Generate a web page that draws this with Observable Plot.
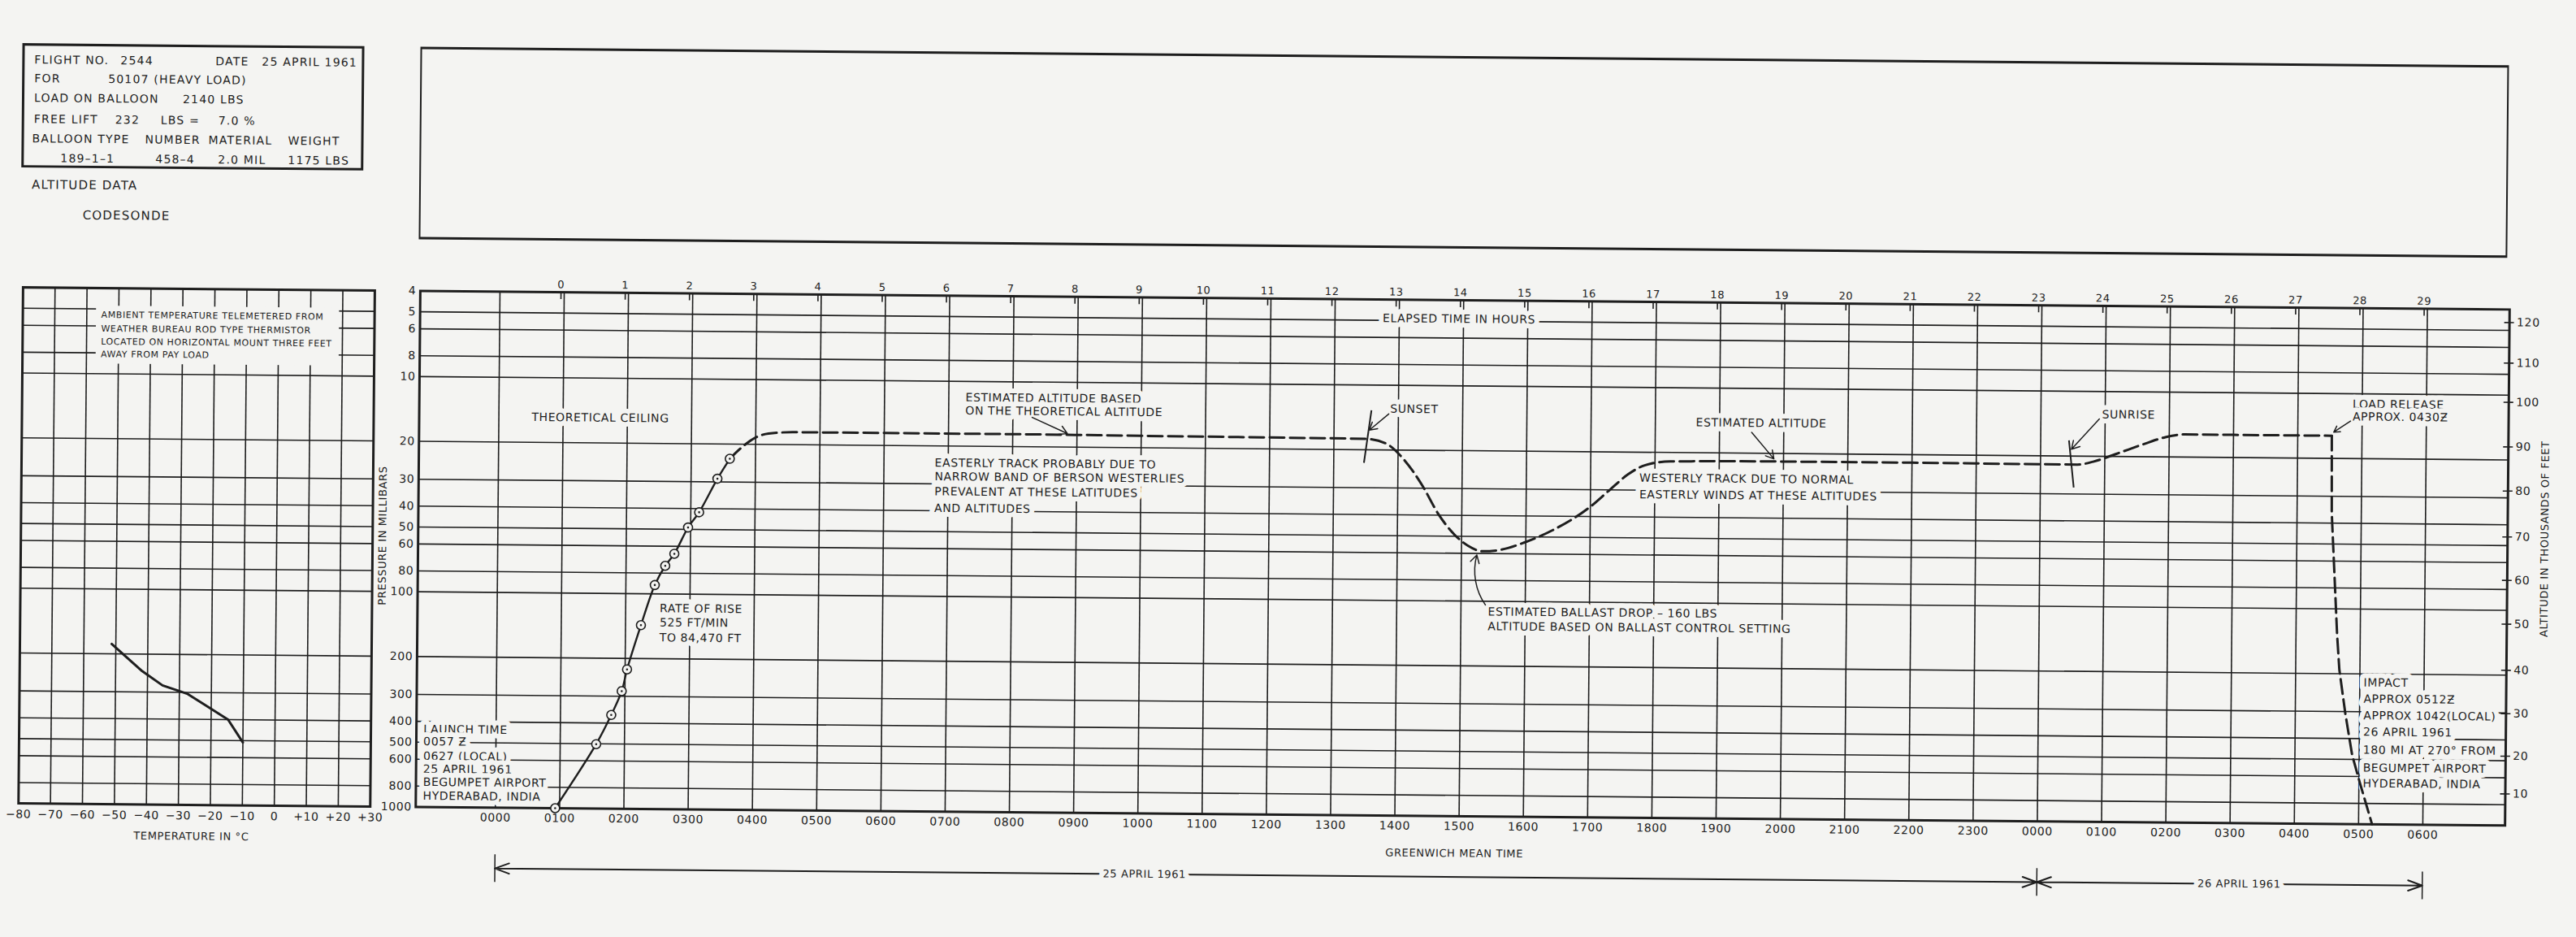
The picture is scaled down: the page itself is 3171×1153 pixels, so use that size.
<!DOCTYPE html>
<html><head><meta charset="utf-8">
<script src="https://cdn.jsdelivr.net/npm/d3@7"></script>
<script src="https://cdn.jsdelivr.net/npm/@observablehq/plot@0.6"></script>
<style>
html,body{margin:0;padding:0;background:#f4f4f2;overflow:hidden;width:3171px;height:1153px;}
#page{position:absolute;left:0;top:0;width:3171px;height:1153px;transform:rotate(0.51deg);transform-origin:1585px 576px;font-family:"DejaVu Sans",sans-serif;color:#1e1e1e;}
#page svg{position:absolute;top:0;overflow:visible;}
#page svg text{letter-spacing:0.6px;}
.t{position:absolute;white-space:nowrap;font-size:14px;line-height:16px;letter-spacing:1.2px;transform:translateY(-50%);}
.box{position:absolute;border:3px solid #1e1e1e;box-sizing:border-box;}
</style></head>
<body><div id="page"></div>
<script>
// ---------------- DATA ----------------
const gridPressures = [5, 6, 8, 10, 20, 30, 40, 50, 60, 80, 100, 200, 300, 400, 500, 600, 800];
const pressureTicks = [4, 5, 6, 8, 10, 20, 30, 40, 50, 60, 80, 100, 200, 300, 400, 500, 600, 800, 1000];
const gmtHours = [0,1,2,3,4,5,6,7,8,9,10,11,12,13,14,15,16,17,18,19,20,21,22,23,24,25,26,27,28,29,30];
const gmtLabels = ["0000","0100","0200","0300","0400","0500","0600","0700","0800","0900","1000","1100","1200","1300","1400","1500","1600","1700","1800","1900","2000","2100","2200","2300","0000","0100","0200","0300","0400","0500","0600"];
const elapsedHours = [0,1,2,3,4,5,6,7,8,9,10,11,12,13,14,15,16,17,18,19,20,21,22,23,24,25,26,27,28,29];
const launchGMT = 0.95; // 0057 Z
const altLabels = ["10","20","30","40","50","60","70","80","90","100","110","120"];
const altPressure = [713, 476, 302, 190, 116, 72.6, 45.6, 27.9, 17.4, 10.8, 7.1, 4.6];

// ascent (solid, circled observations)
const ascentGMT = [0.93, 1.56, 1.79, 1.95, 2.03, 2.24, 2.45, 2.61, 2.75, 2.96, 3.13, 3.41, 3.60];
const ascentMb  = [1000, 502, 367, 284, 225, 140, 91, 74, 65, 49, 41.6, 29, 23.4];
// estimated float (dashed)
const flightGMT = [3.60, 3.80, 4.00, 4.20, 4.60, 6.00, 8.00, 10.00, 12.00, 13.50, 13.80, 14.09, 14.38, 14.64, 14.89, 15.10, 15.33, 15.62, 15.98, 16.42, 17.00, 17.29, 17.58, 17.84, 18.24, 20.00, 22.00, 24.00, 24.57, 24.82, 25.17, 25.60, 25.94, 26.24, 27.00, 28.53];
const flightMb  = [23.4, 20.5, 18.6, 17.8, 17.5, 17.5, 17.5, 17.6, 17.7, 17.8, 18.6, 22.1, 29.1, 39.7, 49.2, 55.3, 58.6, 57.5, 53.1, 46.4, 36.0, 30.2, 25.4, 23.0, 22.0, 21.8, 21.8, 21.9, 21.9, 21.2, 19.5, 17.5, 16.2, 15.7, 15.7, 15.7];
// fall after load release (dashed)
const fallGMT = [28.53, 28.54, 28.64, 28.68, 28.78, 28.89, 29.01, 29.21];
const fallMb  = [15.7, 36, 132, 192, 308, 476, 635, 1000];

// temperature panel
const tempTicks  = [-80, -70, -60, -50, -40, -30, -20, -10, 0, 10, 20, 30];
const tempLabels = ["\u221280","\u221270","\u221260","\u221250","\u221240","\u221230","\u221220","\u221210","0","+10","+20","+30"];
const tempGrid = [-70, -60, -50, -40, -30, -20, -10, 0, 10, 20];
const tempC  = [-51.3, -41.7, -35.3, -27.4, -14.7, -10.0];
const tempMb = [180, 240, 279, 305, 400, 510];
const tempNote = [
  {t: "AMBIENT TEMPERATURE TELEMETERED FROM", p: 5.33},
  {t: "WEATHER BUREAU ROD TYPE THERMISTOR", p: 6.18},
  {t: "LOCATED ON HORIZONTAL MOUNT THREE FEET", p: 7.10},
  {t: "AWAY FROM PAY LOAD", p: 8.12}
];

// annotations on the main chart (GMT hour, millibars)
const notes = [
  {t: "THEORETICAL CEILING", h: 0.51, p: 15.3},
  {t: "ESTIMATED ALTITUDE BASED", h: 7.26, p: 11.9},
  {t: "ON THE THEORETICAL ALTITUDE", h: 7.26, p: 13.7},
  {t: "EASTERLY TRACK PROBABLY DUE TO", h: 6.79, p: 24.0},
  {t: "NARROW BAND OF BERSON WESTERLIES", h: 6.79, p: 27.8},
  {t: "PREVALENT AT THESE LATITUDES", h: 6.79, p: 32.6},
  {t: "AND ALTITUDES", h: 6.79, p: 39.0},
  {t: "RATE OF RISE", h: 2.53, p: 117},
  {t: "525 FT/MIN", h: 2.53, p: 136},
  {t: "TO 84,470 FT", h: 2.53, p: 160},
  {t: "LAUNCH TIME", h: -1.13, p: 436},
  {t: "0057 \u01B5", h: -1.13, p: 497},
  {t: "0627 (LOCAL)", h: -1.13, p: 581},
  {t: "25 APRIL 1961", h: -1.13, p: 667},
  {t: "BEGUMPET AIRPORT", h: -1.13, p: 767},
  {t: "HYDERABAD, INDIA", h: -1.13, p: 889},
  {t: "SUNSET", h: 13.87, p: 12.9},
  {t: "ESTIMATED BALLAST DROP \u2013 160 LBS", h: 15.42, p: 112},
  {t: "ALTITUDE BASED ON BALLAST CONTROL SETTING", h: 15.42, p: 131},
  {t: "ESTIMATED ALTITUDE", h: 18.63, p: 14.5},
  {t: "WESTERLY TRACK DUE TO NORMAL", h: 17.76, p: 26.4},
  {t: "EASTERLY WINDS AT THESE ALTITUDES", h: 17.76, p: 31.5},
  {t: "SUNRISE", h: 24.95, p: 12.8},
  {t: "LOAD RELEASE", h: 28.85, p: 11.2},
  {t: "APPROX. 0430\u01B5", h: 28.85, p: 12.8},
  {t: "IMPACT", h: 29.06, p: 220},
  {t: "APPROX 0512\u01B5", h: 29.06, p: 262},
  {t: "APPROX 1042(LOCAL)", h: 29.06, p: 313},
  {t: "26 APRIL 1961", h: 29.06, p: 373},
  {t: "180 MI AT 270\u00B0 FROM", h: 29.06, p: 452},
  {t: "BEGUMPET AIRPORT", h: 29.06, p: 548},
  {t: "HYDERABAD, INDIA", h: 29.06, p: 647}
];
const elapsedTitle = [{t: "ELAPSED TIME IN HOURS", h: 14.93, p: 4.9}];
const pointers = [
  {x1: 8.30, y1: 14.6, x2: 8.85, y2: 17.3},
  {x1: 13.85, y1: 13.6, x2: 13.55, y2: 16.2},
  {x1: 19.50, y1: 16.0, x2: 19.85, y2: 21.2},
  {x1: 24.91, y1: 13.4, x2: 24.48, y2: 18.6},
  {x1: 28.82, y1: 13.4, x2: 28.56, y2: 15.1}
];
const ballastPointer = [{x1: 15.38, y1: 104, x2: 15.24, y2: 61}];
const dayMarks = [
  {name: "sunset", x1: 13.58, y1: 13.1, x2: 13.47, y2: 23.0},
  {name: "sunrise", x1: 24.44, y1: 16.9, x2: 24.52, y2: 28.0}
];
const dateSpans = [
  {label: "25 APRIL 1961", from: 0, to: 24, mid: 10.11},
  {label: "26 APRIL 1961", from: 24, to: 30, mid: 27.15}
];
const dateBounds = [0, 24, 30];

// ---------------- RENDER ----------------
const ink = "#1e1e1e", paper = "#f4f4f2", FONT = "DejaVu Sans";
const page = document.getElementById("page");
const W = 3171, H = 1153, TOP = 367, BOTTOM = 151;
const MW = W - 460, ML = 55, MR = 84;
const frameH = H - TOP - BOTTOM;
const frameW = MW - ML - MR;

function put(text, x, y, size) {
  const d = document.createElement("div");
  d.className = "t";
  d.textContent = text;
  d.style.left = x + "px";
  d.style.top = y + "px";
  if (size) d.style.fontSize = size + "px";
  page.appendChild(d);
}
function box(x, y, w, h, bw) {
  const d = document.createElement("div");
  d.className = "box";
  Object.assign(d.style, {left: x + "px", top: y + "px", width: w + "px", height: h + "px"});
  if (bw) d.style.borderWidth = bw;
  page.appendChild(d);
}

// header info box
box(23, 67, 421, 153);
const rows = [87, 110, 134, 160, 184, 208];
[["FLIGHT NO.", 38, 0], ["2544", 144, 0], ["DATE", 261, 0], ["25 APRIL 1961", 318, 0],
 ["FOR", 38, 1], ["50107  (HEAVY LOAD)", 129, 1],
 ["LOAD ON BALLOON", 38, 2], ["2140 LBS", 221, 2],
 ["FREE LIFT", 38, 3], ["232", 138, 3], ["LBS =", 194, 3], ["7.0 %", 265, 3],
 ["BALLOON TYPE", 36, 4], ["NUMBER", 175, 4], ["MATERIAL", 253, 4], ["WEIGHT", 351, 4],
 ["189\u20131\u20131", 71, 5], ["458\u20134", 188, 5], ["2.0 MIL", 265, 5], ["1175 LBS", 351, 5]
].forEach(([s, x, r]) => put(s, x, rows[r]));
put("ALTITUDE DATA", 36, 241, 15);
put("CODESONDE", 99, 278, 15);
// empty title box
box(513, 67, 2571, 237, "3px 2px");

const baseStyle = {background: "transparent", fontFamily: FONT, color: ink, overflow: "visible"};
const halo = {fill: ink, stroke: paper, strokeWidth: 12, paintOrder: "stroke"};

// ---- temperature panel ----
const tempData = tempC.map((t, i) => ({t, p: tempMb[i]}));
const tempSvg = Plot.plot({
  width: 475, height: H,
  marginLeft: 26, marginRight: 16, marginTop: TOP, marginBottom: BOTTOM,
  style: baseStyle,
  x: {domain: [-80, 30], label: null},
  y: {type: "log", domain: [4, 1000], reverse: true, axis: null},
  marks: [
    Plot.ruleX(tempGrid, {stroke: ink, strokeWidth: 1.6}),
    Plot.ruleY(gridPressures, {stroke: ink, strokeWidth: 1.6}),
    Plot.rect([0], {x1: () => -57, x2: () => 19, y1: () => 4.85, y2: () => 9.0, fill: paper}),
    Plot.frame({stroke: ink, strokeWidth: 3}),
    Plot.text(tempNote, {x: () => -55.5, y: "p", text: "t", textAnchor: "start", fontSize: 11, fill: ink}),
    Plot.line(tempData, {x: "t", y: "p", stroke: ink, strokeWidth: 3}),
    Plot.axisX({anchor: "bottom", ticks: tempTicks, tickFormat: d => tempLabels[tempTicks.indexOf(d)], tickSize: 0, tickPadding: 8, fontSize: 14, label: null}),
    Plot.text(["TEMPERATURE IN \u00B0C"], {x: () => -25.9, frameAnchor: "bottom", dy: 43, text: d => d, fontSize: 13, fill: ink})
  ]
});
tempSvg.style.left = "0px";
page.appendChild(tempSvg);

// ---- main altitude chart ----
const ascent = ascentGMT.map((h, i) => ({h, p: ascentMb[i]}));
const flight = flightGMT.map((h, i) => ({h, p: flightMb[i]}));
const fall = fallGMT.map((h, i) => ({h, p: fallMb[i]}));
const altTicks = altPressure.map((p, i) => ({p, label: altLabels[i]}));
const elapsedGMT = elapsedHours.map(e => launchGMT + e);

const mainSvg = Plot.plot({
  width: MW, height: H,
  marginLeft: ML, marginRight: MR, marginTop: TOP, marginBottom: BOTTOM,
  style: baseStyle,
  x: {domain: [-1.24, 31.28], label: null},
  y: {type: "log", domain: [4, 1000], reverse: true, axis: null},
  marks: [
    Plot.ruleX(gmtHours, {stroke: ink, strokeWidth: 1.6}),
    Plot.ruleY(gridPressures, {stroke: ink, strokeWidth: 1.6}),
    Plot.ruleX(elapsedGMT, {stroke: ink, strokeWidth: 1.6, insetBottom: frameH - 9}),
    Plot.axisX({anchor: "top", ticks: elapsedGMT, tickFormat: d => String(elapsedHours[elapsedGMT.indexOf(d)]), tickSize: 0, tickPadding: 5, fontSize: 13, label: null}),
    Plot.axisX({anchor: "bottom", ticks: gmtHours, tickFormat: d => gmtLabels[d], tickSize: 0, tickPadding: 7, fontSize: 14, label: null}),
    // left pressure labels
    Plot.text(pressureTicks, {y: d => d, frameAnchor: "left", textAnchor: "end", dx: -5, text: d => `${d}`, fontSize: 14, fill: ink}),
    // right altitude ticks and labels
    Plot.ruleY(altTicks, {y: "p", stroke: ink, strokeWidth: 1.6, insetLeft: frameW - 6, insetRight: -6}),
    Plot.text(altTicks, {y: "p", frameAnchor: "right", textAnchor: "start", dx: 9, text: "label", fontSize: 14, fill: ink}),
    Plot.text(notes, {x: "h", y: "p", text: "t", textAnchor: "start", fontSize: 14, ...halo}),
    Plot.text(elapsedTitle, {x: "h", y: "p", text: "t", textAnchor: "middle", fontSize: 14, ...halo}),
    Plot.frame({stroke: ink, strokeWidth: 3}),
    Plot.line(ascent, {x: "h", y: "p", curve: "catmull-rom", stroke: ink, strokeWidth: 2.4}),
    Plot.line(flight, {x: "h", y: "p", curve: "monotone-x", stroke: ink, strokeWidth: 3, strokeDasharray: "18,7"}),
    Plot.line(fall, {x: "h", y: "p", stroke: ink, strokeWidth: 3, strokeDasharray: "18,7"}),
    Plot.dot(ascent, {x: "h", y: "p", r: 5.5, fill: paper, stroke: ink, strokeWidth: 1.6}),
    Plot.dot(ascent, {x: "h", y: "p", r: 1.3, fill: ink}),
    Plot.link(dayMarks, {x1: "x1", y1: "y1", x2: "x2", y2: "y2", stroke: ink, strokeWidth: 2}),
    Plot.arrow(pointers, {x1: "x1", y1: "y1", x2: "x2", y2: "y2", stroke: ink, strokeWidth: 1.5, headLength: 11}),
    Plot.arrow(ballastPointer, {x1: "x1", y1: "y1", x2: "x2", y2: "y2", bend: 25, stroke: ink, strokeWidth: 1.5, headLength: 11}),
    Plot.text(["PRESSURE IN MILLIBARS"], {x: () => -1.79, y: () => 55, text: d => d, rotate: -90, fontSize: 13, fill: ink}),
    Plot.text(["ALTITUDE IN THOUSANDS OF FEET"], {x: () => 31.86, y: () => 46.4, text: d => d, rotate: -90, fontSize: 13, fill: ink}),
    Plot.text(["GREENWICH MEAN TIME"], {x: () => 14.93, frameAnchor: "bottom", dy: 50, text: d => d, fontSize: 13, fill: ink})
  ]
});
mainSvg.style.left = "460px";
page.appendChild(mainSvg);

// ---- date span arrows below the time axis ----
const dateSvg = Plot.plot({
  width: MW, height: 80,
  marginLeft: ML, marginRight: MR, marginTop: 0, marginBottom: 0,
  style: baseStyle,
  x: {domain: [-1.24, 31.28], axis: null},
  y: {domain: [0, 1], range: [0, 80], axis: null},
  marks: [
    Plot.ruleX(dateBounds, {stroke: ink, strokeWidth: 1.5, insetTop: 20, insetBottom: 26}),
    Plot.arrow(dateSpans, {x1: "mid", x2: "from", y1: () => 0.46, y2: () => 0.46, stroke: ink, strokeWidth: 2, headLength: 14, headAngle: 40}),
    Plot.arrow(dateSpans, {x1: "mid", x2: "to", y1: () => 0.46, y2: () => 0.46, stroke: ink, strokeWidth: 2, headLength: 14, headAngle: 40}),
    Plot.text(dateSpans, {x: "mid", y: () => 0.46, text: "label", fontSize: 13, ...halo})
  ]
});
dateSvg.style.left = "460px";
dateSvg.style.top = "1040px";
page.appendChild(dateSvg);
</script></body></html>
